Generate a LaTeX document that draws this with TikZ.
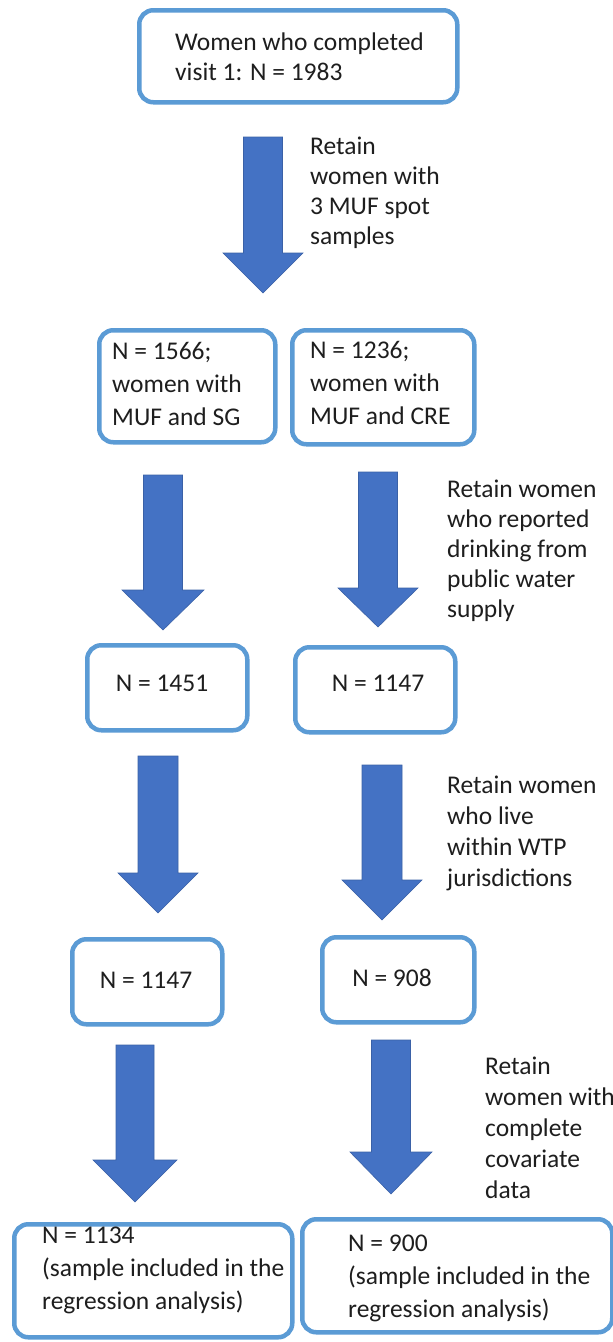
\documentclass[tikz,border=0pt]{standalone}
\usepackage{fontspec}
\setmainfont{Carlito}
\definecolor{boxblue}{RGB}{91,155,213}
\definecolor{arrowblue}{RGB}{68,114,196}
\definecolor{txtgray}{RGB}{30,30,30}
\tikzset{
  box/.style={draw=boxblue, line width=4.5pt, rounded corners=14pt, fill=white, inner sep=0pt},
  txt/.style={font=\fontsize{25.5}{31}\selectfont, align=left, inner sep=0pt, text=txtgray, anchor=base west},
  ctxt/.style={font=\fontsize{25.5}{31}\selectfont, inner sep=0pt, text=txtgray},
  barrow/.style={fill=arrowblue, draw=arrowblue!85!black, line width=0.6pt},
}
% box: name, x1, y1, x2, y2
\newcommand\flowbox[5]{%
  \node[box, anchor=north west, minimum width={(#4-#2)*1pt}, minimum height={(#5-#3)*1pt}] (#1) at (#2,#3) {};}
% block arrow: cx, ytop, yhead, ytip, halfshaft, halfhead
\newcommand\blockarrow[6]{%
  \path[barrow] ({#1-#5},#2) -- ({#1+#5},#2) -- ({#1+#5},#3) -- ({#1+#6},#3) -- (#1,#4) -- ({#1-#6},#3) -- ({#1-#5},#3) -- cycle;}
\begin{document}
\begin{tikzpicture}[x=1pt,y=-1pt]
\useasboundingbox[fill=white] (0,0) rectangle (613,1342);
% boxes
\flowbox{b1}{137}{8}{455}{100}
\flowbox{b2l}{97}{328}{273}{440}
\flowbox{b2r}{290}{328}{472}{442}
\flowbox{b3l}{85}{643}{245}{728}
\flowbox{b3r}{293}{645}{453}{730}
\flowbox{b4l}{70}{937}{220}{1022}
\flowbox{b4r}{320}{935}{472}{1020}
\flowbox{b5l}{12}{1222}{290}{1335}
\flowbox{b5r}{300}{1217}{610}{1330}
% box texts (anchor = baseline of last line)
\node[txt, font=\fontsize{25.5}{29.5}\selectfont] (t1) at (175,80) {Women who completed\\visit 1: N = 1983};
\node[txt, font=\fontsize{25.5}{33}\selectfont] (t2l) at (112,425) {N = 1566;\\women with\\MUF and SG};
\node[txt, font=\fontsize{25.5}{33}\selectfont] (t2r) at (310,424) {N = 1236;\\women with\\MUF and CRE};
\node[ctxt] (t3l) at (162,683) {N = 1451};
\node[ctxt] (t3r) at (378,683) {N = 1147};
\node[ctxt] (t4l) at (146,980) {N = 1147};
\node[ctxt] (t4r) at (392,978) {N = 908};
\node[txt, font=\fontsize{25.5}{33}\selectfont] (t5l) at (42,1309) {N = 1134\\(sample included in the\\regression analysis)};
\node[txt, font=\fontsize{25.5}{33}\selectfont] (t5r) at (348,1317) {N = 900\\(sample included in the\\regression analysis)};
% arrows
\blockarrow{263}{137}{253}{293}{19.5}{40}
\blockarrow{163}{475}{590}{630}{19.5}{41}
\blockarrow{378}{472}{588}{627}{19.5}{40}
\blockarrow{158}{756}{873}{913}{20}{40}
\blockarrow{382}{765}{880}{920}{20}{40}
\blockarrow{135}{1045}{1160}{1202}{19}{42}
\blockarrow{391}{1040}{1152}{1194}{19.5}{41}
% arrow labels
\node[txt, font=\fontsize{25.5}{30}\selectfont] (l1) at (310,244) {Retain\\women with\\3 MUF spot\\samples};
\node[txt, font=\fontsize{25.5}{30}\selectfont] (l2) at (447,617) {Retain women\\who reported\\drinking from\\public water\\supply};
\node[txt] (l3) at (447,886) {Retain women\\who live\\within WTP\\jurisdictions};
\node[txt] (l4) at (485,1198) {Retain\\women with\\complete\\covariate\\data};
\end{tikzpicture}
\end{document}
